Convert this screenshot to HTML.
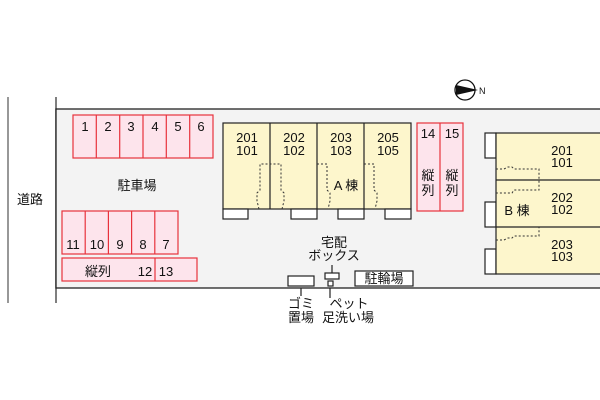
<!DOCTYPE html>
<html><head><meta charset="utf-8"><style>
html,body{margin:0;padding:0;background:#fff;}
svg{display:block;}
text{font-family:"Liberation Sans","Noto Sans CJK JP",sans-serif;font-size:13px;fill:#111;}
</style></head><body>
<svg width="600" height="400" viewBox="0 0 600 400" xmlns="http://www.w3.org/2000/svg">
<rect width="600" height="400" fill="#fff"/>
<line x1="8" y1="97" x2="8" y2="303" stroke="#777" stroke-width="1.5"/>
<line x1="56" y1="97" x2="56" y2="303" stroke="#555" stroke-width="1.5"/>
<text x="17" y="204">道路</text>
<rect x="56" y="109" width="550" height="179" fill="#f3f3f3" stroke="#222" stroke-width="1.3"/>
<!-- compass -->
<circle cx="465" cy="90" r="10" fill="#fff" stroke="#111" stroke-width="1.3"/>
<polygon points="456,85 456,95 478,90" fill="#111"/>
<text x="479" y="94" style="font-size:9px">N</text>
<!-- parking 1-6 -->
<g fill="#fde4ec" stroke="#e8323c" stroke-width="1.2">
<rect x="73" y="115" width="140" height="43"/>
<rect x="62" y="211" width="116" height="43"/>
<rect x="62" y="258" width="135" height="23"/>
<rect x="417" y="123" width="46" height="88"/>
</g>
<g stroke="#e8323c" stroke-width="1.2">
<line x1="96.3" y1="115" x2="96.3" y2="158"/><line x1="119.7" y1="115" x2="119.7" y2="158"/><line x1="143" y1="115" x2="143" y2="158"/><line x1="166.3" y1="115" x2="166.3" y2="158"/><line x1="189.7" y1="115" x2="189.7" y2="158"/>
<line x1="85.2" y1="211" x2="85.2" y2="254"/><line x1="108.4" y1="211" x2="108.4" y2="254"/><line x1="131.6" y1="211" x2="131.6" y2="254"/><line x1="154.8" y1="211" x2="154.8" y2="254"/>
<line x1="155" y1="258" x2="155" y2="281"/>
<line x1="440" y1="123" x2="440" y2="211"/>
</g>
<g text-anchor="middle">
<text x="85" y="131">1</text><text x="108" y="131">2</text><text x="131" y="131">3</text><text x="155" y="131">4</text><text x="178" y="131">5</text><text x="201" y="131">6</text>
<text x="73" y="249">11</text><text x="97" y="249">10</text><text x="120" y="249">9</text><text x="143" y="249">8</text><text x="166" y="249">7</text>
<text x="98" y="276">縦列</text><text x="145" y="276">12</text><text x="166" y="276">13</text>
<text x="428" y="138">14</text><text x="452" y="138">15</text>
<text x="428" y="180">縦</text><text x="428" y="195">列</text>
<text x="452" y="180">縦</text><text x="452" y="195">列</text>
<text x="137" y="190">駐車場</text>
</g>
<!-- building A -->
<rect x="223" y="123" width="188" height="86" fill="#fdf6cc" stroke="#222" stroke-width="1.2"/>
<g stroke="#222" stroke-width="1.2"><line x1="270" y1="123" x2="270" y2="209"/><line x1="317" y1="123" x2="317" y2="209"/><line x1="364" y1="123" x2="364" y2="209"/></g>
<g fill="#fff" stroke="#222" stroke-width="1.2">
<rect x="223" y="209" width="25" height="10"/><rect x="291" y="209" width="26" height="10"/><rect x="338" y="209" width="26" height="10"/><rect x="385" y="209" width="26" height="10"/>
</g>
<g fill="none" stroke="#333" stroke-dasharray="2,2">
<polyline points="259,209 257,201 257,193 260,190 260,164 281,164 281,190 284,193 284,201 282,209"/>
<polyline points="317,164 327,164 327,190 330,193 330,201 328,209"/>
<polyline points="364,164 374,164 374,190 377,193 377,201 375,209"/>
</g>
<g text-anchor="middle">
<text x="247" y="142">201</text><text x="247" y="155">101</text>
<text x="294" y="142">202</text><text x="294" y="155">102</text>
<text x="341" y="142">203</text><text x="341" y="155">103</text>
<text x="388" y="142">205</text><text x="388" y="155">105</text>
<text x="346" y="190">A 棟</text>
</g>
<!-- building B -->
<g fill="#fff" stroke="#222" stroke-width="1.2">
<rect x="485" y="133" width="11" height="25"/><rect x="485" y="202" width="11" height="25"/><rect x="485" y="249" width="11" height="25"/>
</g>
<rect x="496" y="133" width="110" height="141" fill="#fdf6cc" stroke="#222" stroke-width="1.2"/>
<g stroke="#222" stroke-width="1.2"><line x1="496" y1="180" x2="606" y2="180"/><line x1="496" y1="227" x2="606" y2="227"/></g>
<g fill="none" stroke="#333" stroke-dasharray="2,2">
<polyline points="496,169 504,169 508,167 512,167 514,169 539,169 539,190 514,190 512,193 504,193 496,193"/>
<polyline points="496,240 504,240 508,238 512,238 514,236 539,236 539,227"/>
</g>
<g text-anchor="middle">
<text x="562" y="155">201</text><text x="562" y="167">101</text>
<text x="562" y="202">202</text><text x="562" y="214">102</text>
<text x="562" y="249">203</text><text x="562" y="261">103</text>
<text x="517" y="215">B 棟</text>
</g>
<!-- bottom items -->
<g fill="#fff" stroke="#222" stroke-width="1.2">
<rect x="288" y="276" width="26" height="10"/>
<rect x="325" y="273" width="14" height="6"/>
<rect x="328" y="281" width="5" height="5"/>
<rect x="355" y="271" width="58" height="15"/>
</g>
<g stroke="#222" stroke-width="1.2">
<line x1="332" y1="265" x2="332" y2="273"/>
<line x1="301" y1="288" x2="301" y2="296"/>
<line x1="330" y1="288" x2="330" y2="298"/>
</g>
<g text-anchor="middle">
<text x="334" y="247">宅配</text><text x="334" y="260">ボックス</text>
<text x="384" y="283">駐輪場</text>
<text x="301" y="308">ゴミ</text><text x="301" y="322">置場</text>
<text x="349" y="308">ペット</text><text x="348" y="322">足洗い場</text>
</g>
</svg>
</body></html>
